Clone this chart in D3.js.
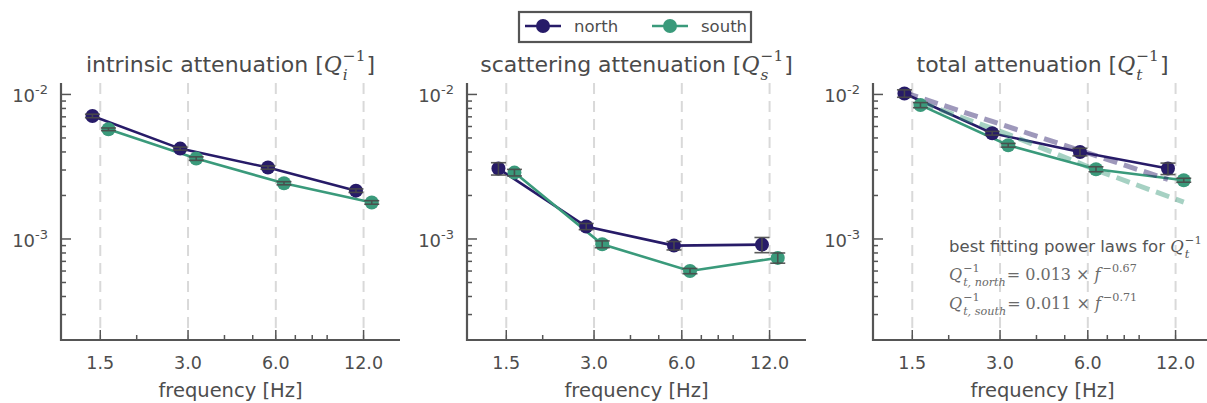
<!DOCTYPE html>
<html>
<head>
<meta charset="utf-8">
<script src="https://cdn.jsdelivr.net/npm/d3@7"></script>
<style>
  body { margin: 0; background: #fff; }
  svg { display: block; font-family: "DejaVu Sans", sans-serif; }
  text { white-space: pre; }
</style>
</head>
<body>
<svg id="chart" width="1207" height="403"></svg>
<script>
// frequency bands and the slightly shifted positions of the two regions
const freqs = [1.5, 3.0, 6.0, 12.0];
const northFreq = [1.41, 2.82, 5.64, 11.3];
const southFreq = [1.60, 3.20, 6.40, 12.8];
const yTicks = [1e-3, 1e-2];

// intrinsic attenuation
const intrinsicNorth = [0.0071, 0.00422, 0.00312, 0.00216];
const intrinsicNorthErr = [0.0002, 0.0001, 0.00008, 0.00006];
const intrinsicSouth = [0.00574, 0.0036, 0.00243, 0.00179];
const intrinsicSouthErr = [0.00012, 0.0001, 0.00006, 0.00005];

// scattering attenuation
const scatterNorth = [0.00307, 0.00122, 0.0009, 0.000914];
const scatterNorthErr = [0.0003, 0.00006, 0.00006, 0.00011];
const scatterSouth = [0.00288, 0.00092, 0.0006, 0.00074];
const scatterSouthErr = [0.00015, 0.00005, 0.000025, 0.00006];

// total attenuation
const totalNorth = [0.01016, 0.00539, 0.004, 0.00307];
const totalNorthErr = [0.0006, 0.00016, 0.00024, 0.00028];
const totalSouth = [0.00844, 0.00445, 0.00304, 0.00255];
const totalSouthErr = [0.00034, 0.00013, 0.00012, 0.00008];

// best fitting power laws, values at the band frequencies
const totalNorthFit = [0.0103, 0.0065, 0.0041, 0.00258];
const totalSouthFit = [0.0088, 0.0053, 0.0030, 0.00180];

const northColor = "#271b68";
const southColor = "#3a9a7b";
const textColor = "#4d4d4d";

const svg = d3.select("#chart");
const panelW = 339, axTop = 83, axBottom = 340;
const lefts = [61, 467, 873];

const panels = [
  {title: "intrinsic attenuation [", sub: "i", north: intrinsicNorth, nErr: intrinsicNorthErr, south: intrinsicSouth, sErr: intrinsicSouthErr},
  {title: "scattering attenuation [", sub: "s", north: scatterNorth, nErr: scatterNorthErr, south: scatterSouth, sErr: scatterSouthErr},
  {title: "total attenuation [", sub: "t", north: totalNorth, nErr: totalNorthErr, south: totalSouth, sErr: totalSouthErr,
   fits: [totalNorthFit, totalSouthFit]}
];

// writes text pieces one after the other; a piece may hold a stacked sup/sub
function richText(g, parts, color) {
  let cx = 0;
  parts.forEach(p => {
    if (p.sup !== undefined || p.sub !== undefined) {
      let w = 0;
      if (p.sup) {
        const t = g.append("text").attr("x", cx).attr("y", -p.size * 0.5).text(p.sup)
          .attr("font-family", p.font).attr("font-size", p.size * 0.7).attr("fill", color);
        w = Math.max(w, t.node().getComputedTextLength());
      }
      if (p.sub) {
        const t = g.append("text").attr("x", cx).attr("y", p.size * 0.35).text(p.sub)
          .attr("font-family", p.font).attr("font-style", "italic")
          .attr("font-size", p.size * 0.7).attr("fill", color);
        w = Math.max(w, t.node().getComputedTextLength());
      }
      cx += w + 1;
    } else {
      const t = g.append("text").attr("x", cx).attr("y", 0).text(p.t)
        .attr("font-family", p.font).attr("font-size", p.size).attr("fill", color)
        .attr("font-style", p.italic ? "italic" : "normal");
      cx += t.node().getComputedTextLength() + (p.pad || 0);
    }
  });
  return cx;
}

const serif = "'DejaVu Serif', serif";
const sans = "'DejaVu Sans', sans-serif";

panels.forEach((p, i) => {
  const left = lefts[i];
  const x = d3.scaleLog().domain([1.1, 16]).range([left, left + panelW]);
  const y = d3.scaleLog().domain([2e-4, 0.012]).range([axBottom, axTop]);
  const g = svg.append("g");

  // dashed vertical grid at the bands
  g.selectAll(".grid").data(freqs).join("line")
    .attr("x1", d => x(d)).attr("x2", d => x(d))
    .attr("y1", axTop).attr("y2", axBottom)
    .attr("stroke", "#d9d9d9").attr("stroke-width", 2).attr("stroke-dasharray", "11,7");

  // minor ticks
  const xMinor = [2, 4, 5, 7, 8, 9];
  g.selectAll(".xm").data(xMinor).join("line")
    .attr("x1", d => x(d)).attr("x2", d => x(d))
    .attr("y1", axBottom).attr("y2", axBottom - 5)
    .attr("stroke", "#555").attr("stroke-width", 1.5);
  g.selectAll(".xM").data(freqs).join("line")
    .attr("x1", d => x(d)).attr("x2", d => x(d))
    .attr("y1", axBottom).attr("y2", axBottom - 10)
    .attr("stroke", "#555").attr("stroke-width", 1.5);
  const yMinor = [];
  [1e-4, 1e-3].forEach(dec => d3.range(2, 10).forEach(k => {
    const v = dec * k;
    if (v >= 2e-4 && v <= 0.012) yMinor.push(v);
  }));
  g.selectAll(".ym").data(yMinor).join("line")
    .attr("x1", left).attr("x2", left + 5)
    .attr("y1", d => y(d)).attr("y2", d => y(d))
    .attr("stroke", "#555").attr("stroke-width", 1.5);
  g.selectAll(".yM").data(yTicks).join("line")
    .attr("x1", left).attr("x2", left + 10)
    .attr("y1", d => y(d)).attr("y2", d => y(d))
    .attr("stroke", "#555").attr("stroke-width", 1.5);

  // spines
  g.append("line").attr("x1", left).attr("x2", left).attr("y1", axTop).attr("y2", axBottom + 1)
    .attr("stroke", "#555").attr("stroke-width", 2.2);
  g.append("line").attr("x1", left - 1).attr("x2", left + panelW).attr("y1", axBottom).attr("y2", axBottom)
    .attr("stroke", "#555").attr("stroke-width", 2.2);

  // tick labels
  g.selectAll(".xl").data(freqs).join("text")
    .attr("x", d => x(d)).attr("y", 369).attr("text-anchor", "middle")
    .attr("font-size", 17.5).attr("fill", textColor).text(d => d.toFixed(1));
  yTicks.forEach(v => {
    const t = g.append("text").attr("x", left - 13).attr("y", y(v) + 8)
      .attr("text-anchor", "end").attr("font-size", 18).attr("fill", textColor);
    t.append("tspan").text("10");
    t.append("tspan").attr("dy", -8).attr("font-size", 13).text("-" + (-Math.log10(v)).toFixed(0));
  });
  g.append("text").attr("x", left + panelW / 2).attr("y", 397).attr("text-anchor", "middle")
    .attr("font-size", 19.5).attr("fill", textColor).text("frequency [Hz]");

  // title
  const tg = g.append("g");
  const w = richText(tg, [
    {t: p.title, font: sans, size: 22},
    {t: "Q", font: serif, size: 22, italic: true, pad: 1},
    {sup: "\u22121", sub: p.sub, font: serif, size: 22},
    {t: "]", font: sans, size: 22}
  ], "#4a4a4a");
  tg.attr("transform", `translate(${left + panelW / 2 - w / 2},72)`);

  const line = d3.line().x(d => x(d[0])).y(d => y(d[1]));
  const series = [
    {f: northFreq, v: p.north, e: p.nErr, c: northColor},
    {f: southFreq, v: p.south, e: p.sErr, c: southColor}
  ];

  series.forEach(s => {
    g.append("path").datum(s.f.map((f, k) => [f, s.v[k]]))
      .attr("d", line).attr("fill", "none").attr("stroke", s.c).attr("stroke-width", 2.6);
  });

  if (p.fits) {
    p.fits.forEach((fit, k) => {
      const f = series[k].f;
      g.append("path").datum(f.map((ff, j) => [ff, fit[j]]))
        .attr("d", line).attr("fill", "none").attr("stroke", series[k].c)
        .attr("stroke-opacity", 0.45).attr("stroke-width", 5).attr("stroke-dasharray", "14,7");
    });
  }

  series.forEach(s => {
    g.selectAll(null).data(s.f.map((f, k) => [f, s.v[k]])).join("circle")
      .attr("cx", d => x(d[0])).attr("cy", d => y(d[1])).attr("r", 7).attr("fill", s.c);
  });

  // error bars with caps
  series.forEach(s => {
    s.f.forEach((f, k) => {
      const cx = x(f), y1 = y(s.v[k] + s.e[k]), y2 = y(s.v[k] - s.e[k]);
      const eb = g.append("g").attr("stroke", "#4a4a4a").attr("stroke-width", 1.6).attr("opacity", 0.9);
      eb.append("line").attr("x1", cx).attr("x2", cx).attr("y1", y1).attr("y2", y2);
      eb.append("line").attr("x1", cx - 7.5).attr("x2", cx + 7.5).attr("y1", y1).attr("y2", y1);
      eb.append("line").attr("x1", cx - 7.5).attr("x2", cx + 7.5).attr("y1", y2).attr("y2", y2);
    });
  });

  if (p.fits) {
    const ag = g.append("g").attr("transform", "translate(949,252)");
    richText(ag, [
      {t: "best fitting power laws for ", font: sans, size: 16.5},
      {t: "Q", font: serif, size: 16.5, italic: true, pad: 1},
      {sup: "\u22121", sub: "t", font: serif, size: 16.5}
    ], "#555");
    const eq = [["north", "0.013", "\u22120.67", 280], ["south", "0.011", "\u22120.71", 309]];
    eq.forEach(e => {
      const eg = g.append("g").attr("transform", `translate(949,${e[3]})`);
      richText(eg, [
        {t: "Q", font: serif, size: 16, italic: true, pad: 1},
        {sup: "\u22121", sub: "t, " + e[0], font: serif, size: 16},
        {t: "= " + e[1] + " \u00d7 ", font: serif, size: 16},
        {t: "f", font: serif, size: 16, italic: true, pad: 2},
        {sup: e[2], font: serif, size: 16}
      ], "#6a6a6a");
    });
  }
});

// legend
const lg = svg.append("g");
lg.append("rect").attr("x", 519).attr("y", 12).attr("width", 232).attr("height", 30)
  .attr("fill", "#fff").attr("stroke", "#555").attr("stroke-width", 2.2);
[["north", northColor, 525], ["south", southColor, 652]].forEach(([name, c, lx]) => {
  lg.append("line").attr("x1", lx).attr("x2", lx + 36).attr("y1", 26).attr("y2", 26)
    .attr("stroke", c).attr("stroke-width", 2.6);
  lg.append("circle").attr("cx", lx + 18).attr("cy", 26).attr("r", 7).attr("fill", c);
  lg.append("text").attr("x", lx + 49).attr("y", 32).attr("font-size", 16.5)
    .attr("fill", textColor).text(name);
});
</script>
</body>
</html>
